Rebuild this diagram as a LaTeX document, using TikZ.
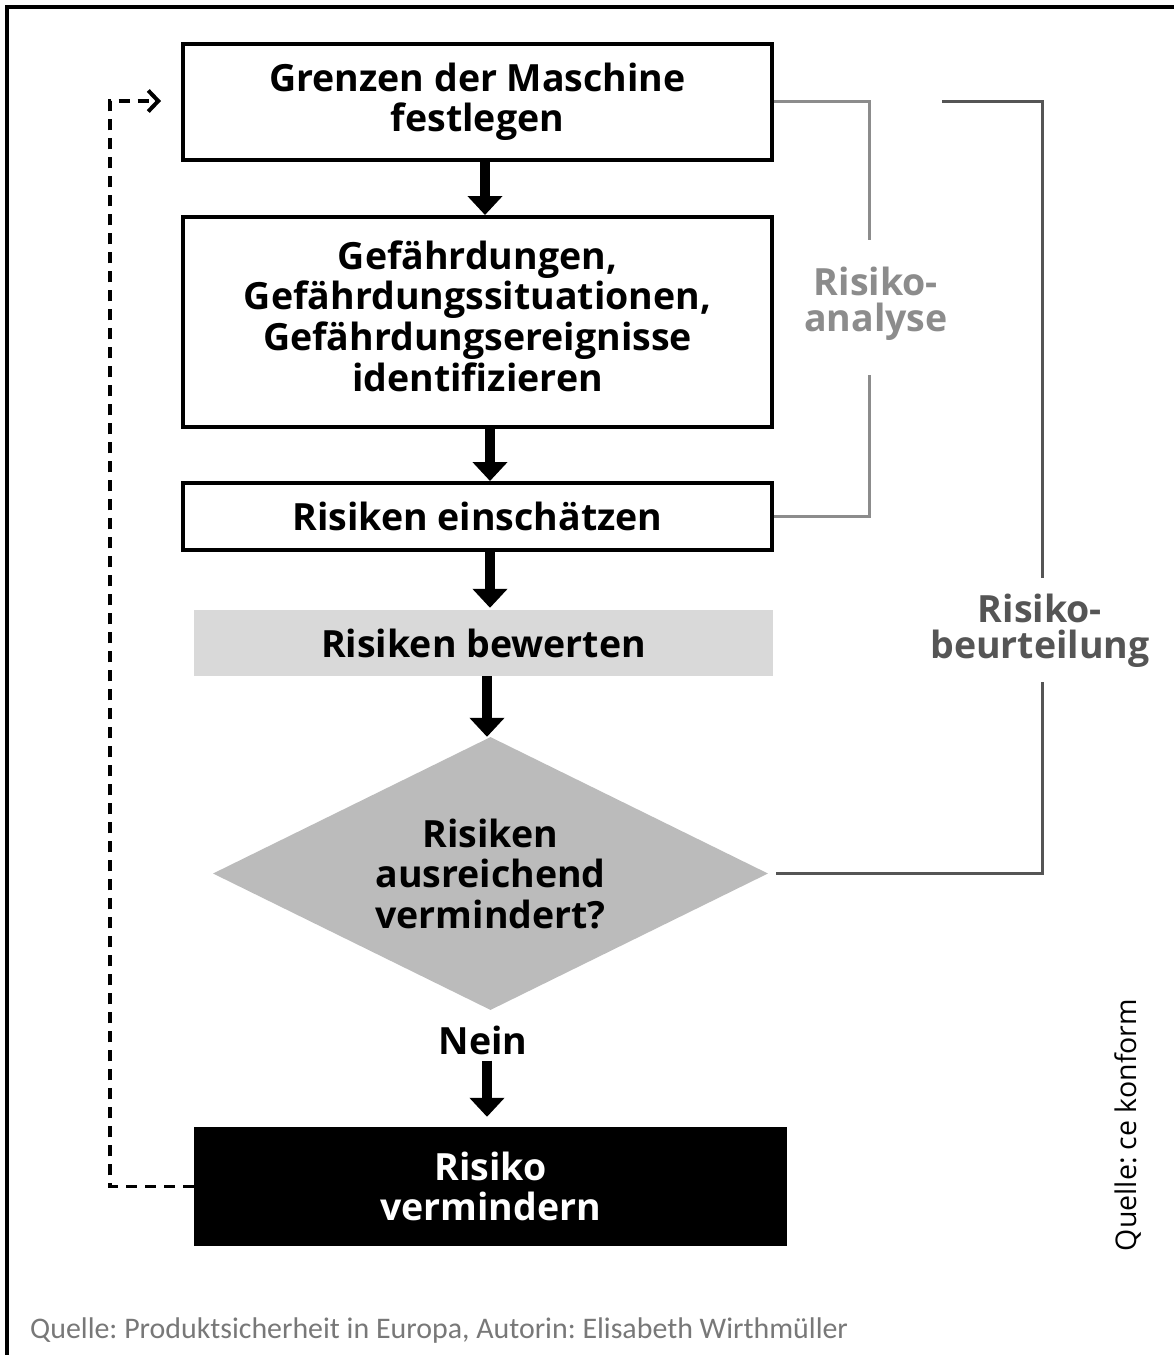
\documentclass[tikz,border=0pt]{standalone}
\usepackage{fontspec}
\setmainfont{Open Sans}
\newfontfamily\calfont{Carlito}
\frenchspacing
\usetikzlibrary{arrows.meta,shapes.geometric,calc}
\definecolor{boxgray}{RGB}{217,217,217}
\definecolor{diagray}{RGB}{187,187,187}
\definecolor{anagray}{RGB}{140,140,140}
\definecolor{beugray}{RGB}{85,85,85}
\definecolor{capgray}{RGB}{120,120,120}
\begin{document}
\begin{tikzpicture}[x=1pt,y=-1pt,
  boldtext/.style={font=\bfseries\fontsize{37.5}{40.5}\selectfont},
  stepbox/.style={draw=black,line width=4pt,rectangle,inner sep=0pt,align=center,boldtext},
  bigarrow/.style={line width=10pt,-{Triangle[width=34pt,length=19pt]}},
  dashline/.style={line width=3.5pt,dash pattern=on 11pt off 8pt,-{Straight Barb[length=10pt,width=21pt,line width=4pt]}},
  anabracket/.style={draw=anagray,line width=3pt},
  beubracket/.style={draw=beugray,line width=3pt},
  labeltext/.style={align=center,inner sep=0pt,font=\bfseries\fontsize{37.5}{36}\selectfont}
]
\useasboundingbox (0,0) rectangle (1174,1355);
\fill[white] (0,0) rectangle (1174,1355);
% frame
\draw[line width=3.5pt] (1176,7) -- (7,7) -- (7,1358);

\node[stepbox,minimum width=589pt,minimum height=116pt] (b1) at (477.5,102) {Grenzen der Maschine\\festlegen};
\node[stepbox,minimum width=589pt,minimum height=210pt] (b2) at (477.5,322) {\raisebox{4pt}{\begin{tabular}{@{}c@{}}Gefährdungen,\\Gefährdungssituationen,\\Gefährdungsereignisse\\identifizieren\end{tabular}}};
\node[stepbox,minimum width=589pt,minimum height=67pt] (b3) at (477.5,516.5) {Risiken einschätzen};
\node[rectangle,fill=boxgray,inner sep=0pt,minimum width=579pt,minimum height=66pt,boldtext] (b4) at (483.5,643) {Risiken bewerten};
\node[diamond,fill=diagray,inner sep=0pt,aspect=2.03,minimum width=555pt,minimum height=273pt,
  align=center,boldtext] (d) at (490.5,873.5) {Risiken\\ausreichend\\vermindert?};
\node[boldtext,inner sep=0pt] (nein) at (483,1040) {Nein};
\node[rectangle,fill=black,text=white,inner sep=0pt,minimum width=593pt,minimum height=119pt,
  align=center,boldtext] (b5) at (490.5,1186.5) {Risiko\\vermindern};

% arrows
\coordinate (a1) at (485,0);
\coordinate (a2) at (490,0);
\coordinate (a4) at (487,0);
\draw[bigarrow] (b1.south -| a1) -- (b2.north -| a1);
\draw[bigarrow] (b2.south -| a2) -- (b3.north -| a2);
\draw[bigarrow] ($(b3.south -| a2)+(0,-2)$) -- ($(b4.north -| a2)+(0,-2)$);
\draw[bigarrow] (b4.south -| a4) -- (d.north -| a4);
\draw[bigarrow] ($(nein.south -| a4)+(0,6)$) -- ($(b5.north -| a4)+(0,-10)$);

% dashed feedback
\coordinate (fb) at ($(b1.west)+(-20,-1)$);
\draw[dashline] (b5.west) -| (110,101) -- (fb);

% Risikoanalyse bracket
\node[labeltext,text=anagray] (ana) at (876,304) {Risiko-\\analyse};
\draw[anabracket] ($(b1.east)+(0,-1)$) -- (869,101) -- (869,240);
\draw[anabracket] (869,375) -- (869,516.5) -- (b3.east);

% Risikobeurteilung bracket
\node[labeltext,text=beugray] (beu) at (1040,631) {Risiko-\\beurteilung};
\draw[beubracket] (942,101) -- (1042,101) -- (1042,578);
\draw[beubracket] (1042,682) -- (1042,873.5) -- ($(d.east)+(8,0)$);

% sources
\node[rotate=90,inner sep=0pt,font=\fontsize{28.5}{28}\selectfont] (src) at (1128,1125) {Quelle: ce konform};
\node[anchor=west,inner sep=0pt,text=capgray,font=\calfont\fontsize{29.9}{29}\selectfont] (cap) at (30,1331) {Quelle: Produktsicherheit in Europa, Autorin: Elisabeth Wirthmüller};
\end{tikzpicture}
\end{document}
